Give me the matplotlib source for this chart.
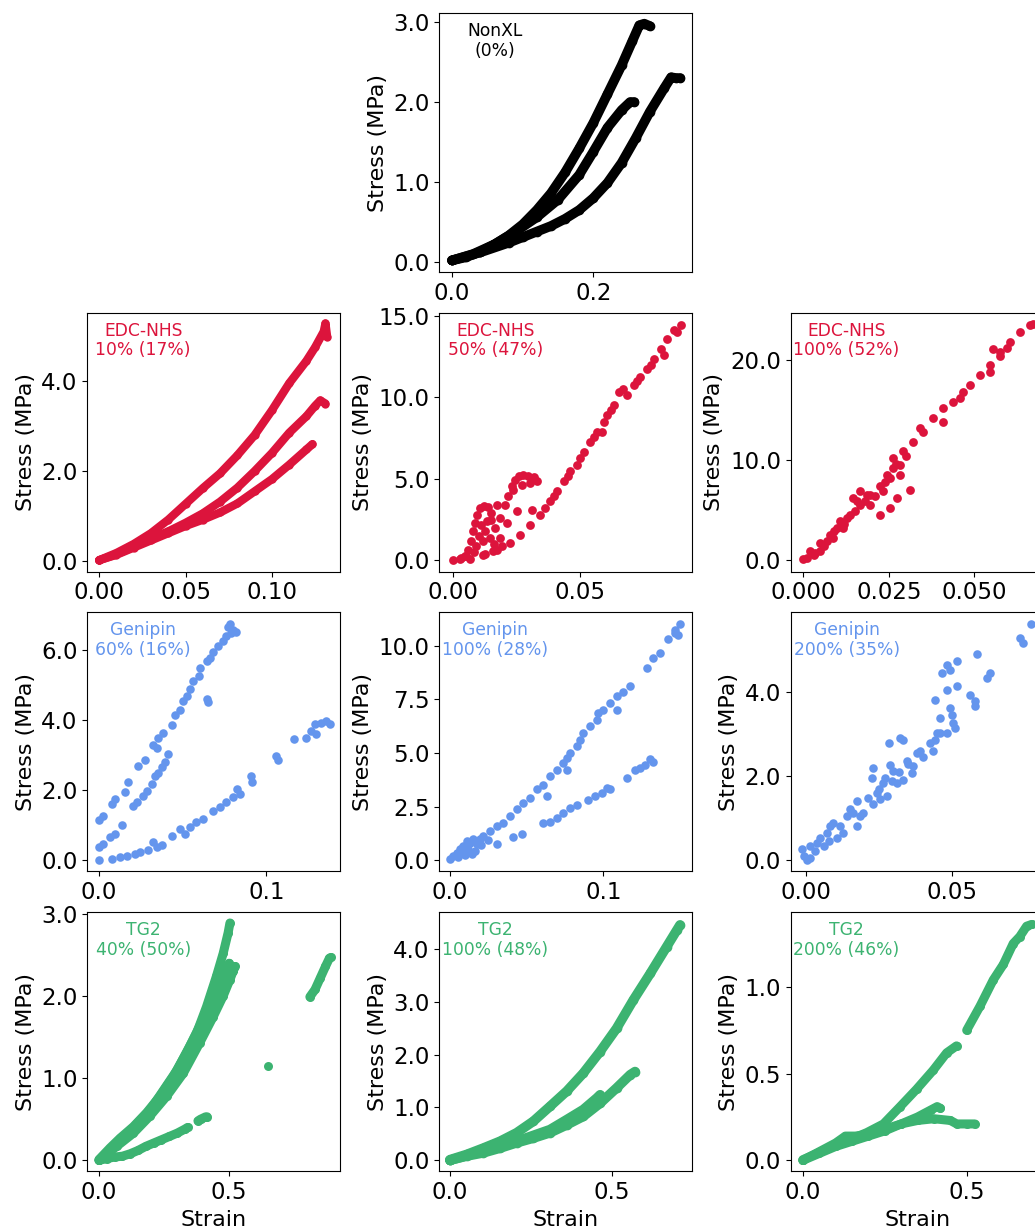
import matplotlib
matplotlib.use("Agg")
import matplotlib.pyplot as plt
from matplotlib.ticker import MaxNLocator, FormatStrFormatter

# ---------------- data ----------------
# NonXL (0%)
nonxl_c1_x = [0.0, 0.02, 0.04, 0.06, 0.08, 0.10, 0.12, 0.14, 0.16, 0.18, 0.20, 0.22, 0.24, 0.255, 0.265, 0.272, 0.28]
nonxl_c1_y = [0.02, 0.06, 0.13, 0.22, 0.33, 0.47, 0.65, 0.86, 1.12, 1.42, 1.74, 2.10, 2.46, 2.76, 2.96, 2.98, 2.95]
nonxl_c2_x = [0.0, 0.03, 0.06, 0.09, 0.12, 0.15, 0.18, 0.20, 0.22, 0.24, 0.252, 0.258]
nonxl_c2_y = [0.02, 0.10, 0.22, 0.38, 0.56, 0.78, 1.09, 1.38, 1.68, 1.90, 2.00, 2.00]
nonxl_c3_x = [0.0, 0.04, 0.08, 0.10, 0.12, 0.14, 0.16, 0.18, 0.20, 0.22, 0.24, 0.26, 0.28, 0.30, 0.31, 0.317, 0.323]
nonxl_c3_y = [0.02, 0.12, 0.24, 0.31, 0.38, 0.45, 0.54, 0.65, 0.80, 0.99, 1.24, 1.55, 1.88, 2.17, 2.31, 2.30, 2.30]

# EDC-NHS 10% (17%)
edc10_c1_x = [0.0, 0.01, 0.02, 0.03, 0.04, 0.05, 0.06, 0.07, 0.08, 0.09, 0.10, 0.11, 0.12, 0.125, 0.13, 0.131, 0.132]
edc10_c1_y = [0.02, 0.18, 0.38, 0.62, 0.92, 1.27, 1.62, 1.95, 2.35, 2.80, 3.35, 3.95, 4.45, 4.75, 5.10, 5.28, 4.98]
edc10_c2_x = [0.0, 0.01, 0.02, 0.03, 0.04, 0.05, 0.06, 0.07, 0.08, 0.09, 0.10, 0.11, 0.12, 0.125, 0.128, 0.131]
edc10_c2_y = [0.02, 0.15, 0.32, 0.50, 0.66, 0.85, 1.06, 1.32, 1.63, 2.00, 2.40, 2.85, 3.22, 3.45, 3.57, 3.50]
edc10_c3_x = [0.0, 0.01, 0.02, 0.03, 0.04, 0.05, 0.06, 0.07, 0.08, 0.09, 0.10, 0.11, 0.12, 0.1235]
edc10_c3_y = [0.02, 0.14, 0.30, 0.46, 0.62, 0.78, 0.92, 1.08, 1.28, 1.55, 1.82, 2.14, 2.48, 2.60]

# EDC-NHS 50% (47%)
edc50_x = [0.0, 0.0026, 0.0046, 0.0059, 0.0068, 0.0076, 0.0086, 0.0095, 0.0105, 0.0121, 0.0138, 0.0147, 0.0134,
           0.0125, 0.0118, 0.0125, 0.0066, 0.0118, 0.0171, 0.0224, 0.0263, 0.0303, 0.0342, 0.0382, 0.0408, 0.0434,
           0.0461, 0.0487, 0.0513, 0.0540, 0.0566, 0.0586, 0.0592, 0.0605, 0.0632, 0.0651, 0.0684, 0.0711, 0.0737,
           0.0763, 0.0790, 0.0816, 0.0842, 0.0869, 0.0895, 0.0145, 0.0164, 0.0184, 0.0204, 0.0217, 0.0230, 0.0243,
           0.0257, 0.0276, 0.0296, 0.0316, 0.0329, 0.0303, 0.0270, 0.0237, 0.0250, 0.0309, 0.0211, 0.0184, 0.0158,
           0.0191, 0.0171, 0.0100, 0.0090, 0.0080, 0.0110, 0.0050, 0.0030, 0.0150, 0.0160, 0.0880, 0.0780, 0.0830,
           0.0360, 0.0395, 0.0450, 0.0500, 0.0555, 0.0620, 0.0670, 0.0725]
edc50_y = [0.0, 0.06, 0.26, 0.67, 1.18, 1.79, 2.30, 2.81, 3.22, 3.32, 3.28, 2.91, 2.40,
           1.79, 1.18, 0.37, 0.06, 0.33, 0.67, 1.08, 1.59, 2.20, 2.81, 3.63, 4.24, 4.85,
           5.46, 5.87, 6.68, 7.29, 7.90, 7.90, 8.52, 8.92, 9.53, 10.35, 10.14, 10.76, 11.26,
           11.77, 12.38, 13.00, 13.61, 14.12, 14.46, 1.39, 2.00, 2.61, 3.42, 3.93, 4.54, 4.95,
           5.21, 5.26, 5.21, 5.15, 4.89, 4.75, 4.64, 4.34, 3.01, 3.12, 2.30, 1.39, 0.57,
           0.88, 3.42, 1.50, 0.90, 0.50, 2.20, 0.30, 0.15, 2.50, 1.00, 14.00, 12.00, 12.60,
           3.20, 3.95, 5.20, 6.30, 7.60, 9.20, 10.50, 11.00]

# EDC-NHS 100% (52%)
edc100_x = [0.0, 0.0019, 0.0049, 0.0078, 0.0107, 0.0136, 0.0166, 0.0195, 0.0224, 0.0244, 0.0263, 0.0292, 0.0322,
            0.0351, 0.0380, 0.0409, 0.0439, 0.0468, 0.0487, 0.0517, 0.0546, 0.0575, 0.0604, 0.0634, 0.0663, 0.0673,
            0.0312, 0.0283, 0.0273, 0.0253, 0.0224, 0.0195, 0.0166, 0.0146, 0.0117, 0.0088, 0.0049, 0.0556, 0.0575,
            0.0546, 0.0595, 0.0458, 0.0409, 0.0341, 0.0253, 0.0263, 0.0283, 0.0234, 0.0185, 0.0156, 0.0127, 0.0097,
            0.0068, 0.0034, 0.0010, 0.0030, 0.0060, 0.0090, 0.0120, 0.0150, 0.0180, 0.0210, 0.0240, 0.0270, 0.0300]
edc100_y = [0.10, 0.93, 1.75, 2.58, 3.90, 4.56, 5.56, 6.55, 7.37, 8.53, 10.19, 10.85, 11.84,
            12.83, 14.15, 15.15, 15.81, 16.80, 17.46, 18.45, 19.45, 20.77, 21.76, 22.75, 23.41, 23.58,
            7.04, 8.53, 6.22, 5.23, 4.56, 5.56, 6.88, 6.22, 3.24, 2.25, 0.93, 21.10, 20.40,
            18.79, 21.20, 16.14, 13.82, 13.16, 8.20, 9.19, 9.52, 6.88, 6.55, 5.89, 4.23, 3.24,
            1.92, 0.76, 0.26, 0.50, 1.40, 2.90, 3.60, 4.90, 5.90, 6.40, 7.80, 9.60, 10.40]

# Genipin 60% (16%)
gen60_x = [0.0, 0.0026, 0.0076, 0.0095, 0.0155, 0.0175, 0.0235, 0.0274, 0.0324, 0.0344, 0.0354, 0.0384, 0.0433,
           0.0453, 0.0483, 0.0503, 0.0523, 0.0543, 0.0563, 0.0598, 0.0602, 0.0642, 0.0662, 0.0682, 0.0712, 0.0742,
           0.0761, 0.0771, 0.0781, 0.0801, 0.0821, 0.0791, 0.0642, 0.0650,
           0.0, 0.0026, 0.0066, 0.0095, 0.0135, 0.0205, 0.0225, 0.0264, 0.0284, 0.0314, 0.0334, 0.0354, 0.0374,
           0.0394, 0.0413,
           0.0, 0.0076, 0.0125, 0.0165, 0.0215, 0.0245, 0.0294, 0.0324, 0.0344, 0.0374, 0.0433, 0.0483, 0.0513,
           0.0543, 0.0582, 0.0622, 0.0682, 0.0722, 0.0761, 0.0801, 0.0825, 0.0841, 0.0910, 0.0916, 0.1056, 0.1070,
           0.1165, 0.1235, 0.1268, 0.1288, 0.1294, 0.1328, 0.1358, 0.1378]
gen60_y = [1.15, 1.26, 1.59, 1.73, 1.94, 2.21, 2.68, 2.85, 3.27, 3.20, 3.49, 3.63, 3.84,
           4.15, 4.29, 4.53, 4.67, 4.88, 5.10, 5.24, 5.48, 5.67, 5.76, 5.95, 6.10, 6.24,
           6.38, 6.66, 6.74, 6.57, 6.52, 6.47, 4.60, 4.50,
           0.36, 0.45, 0.64, 0.74, 0.98, 1.55, 1.66, 1.83, 1.97, 2.16, 2.40, 2.49, 2.64,
           2.80, 3.01,
           0.0, 0.03, 0.08, 0.12, 0.17, 0.22, 0.27, 0.50, 0.36, 0.41, 0.67, 0.88, 0.74,
           0.93, 1.07, 1.17, 1.40, 1.50, 1.64, 1.78, 2.02, 1.88, 2.40, 2.23, 2.97, 2.85,
           3.46, 3.49, 3.68, 3.87, 3.58, 3.92, 3.96, 3.87]

# Genipin 100% (28%)
gen100_x = [0.0, 0.0022, 0.0043, 0.0065, 0.0087, 0.0109, 0.0130, 0.0152, 0.0174, 0.0196, 0.0217, 0.0261, 0.0304,
            0.0348, 0.0391, 0.0435, 0.0478, 0.0522, 0.0565, 0.0609, 0.0652, 0.0696, 0.0739, 0.0761, 0.0783, 0.0826,
            0.0848, 0.0870, 0.0913, 0.0957, 0.0967, 0.1000, 0.1043, 0.1087, 0.1130, 0.1174, 0.1087, 0.0761, 0.0630,
            0.1283, 0.1326, 0.1370, 0.1424, 0.1467, 0.1500, 0.1489, 0.1467,
            0.0304, 0.0413, 0.0467, 0.0609, 0.0652, 0.0696, 0.0739, 0.0783, 0.0826, 0.0902, 0.0946, 0.0989, 0.1022,
            0.1043, 0.1152, 0.1207, 0.1239, 0.1272, 0.1304, 0.1326,
            0.0050, 0.0080, 0.0120, 0.0160, 0.0200, 0.0140, 0.0100, 0.0250]
gen100_y = [0.05, 0.20, 0.36, 0.51, 0.67, 0.90, 0.82, 0.98, 0.74, 0.98, 1.13, 1.36, 1.59,
            1.75, 2.06, 2.37, 2.68, 2.91, 3.30, 3.53, 3.92, 4.23, 4.54, 4.77, 5.00, 5.31,
            5.62, 5.93, 6.24, 6.55, 6.86, 7.01, 7.32, 7.63, 7.86, 8.10, 7.01, 4.23, 2.99,
            8.95, 9.41, 9.64, 10.29, 10.73, 11.00, 10.50, 10.57,
            0.74, 1.10, 1.21, 1.72, 1.78, 1.98, 2.21, 2.45, 2.60, 2.83, 2.99, 3.14, 3.37,
            3.30, 3.84, 4.23, 4.30, 4.46, 4.72, 4.57,
            0.15, 0.40, 0.55, 0.45, 0.70, 0.30, 0.25, 0.95]

# Genipin 200% (35%)
gen200_x = [-0.0009, 0.0002, 0.0014, -0.0015, 0.0014, 0.0037, 0.0031, 0.0048, 0.0060, 0.0071, 0.0077, 0.0082,
            0.0094, 0.0105, 0.0117, 0.0128, 0.0140, 0.0151, 0.0162, 0.0174, 0.0174, 0.0185, 0.0197, 0.0214,
            0.0225, 0.0231, 0.0231, 0.0243, 0.0254, 0.0263, 0.0277, 0.0283, 0.0288, 0.0294, 0.0300, 0.0311,
            0.0323, 0.0334, 0.0334, 0.0345, 0.0363, 0.0368, 0.0380, 0.0391, 0.0403, 0.0437, 0.0443, 0.0448,
            0.0443, 0.0460, 0.0466, 0.0483, 0.0483, 0.0483, 0.0494, 0.0494, 0.0500, 0.0506, 0.0511, 0.0517,
            0.0517, 0.0563, 0.0580, 0.0580, 0.0586, 0.0622, 0.0631, 0.0734, 0.0746, 0.0774, 0.0426, 0.0460,
            0.0250, 0.0270, 0.0320, 0.0350]
gen200_y = [0.10, 0.02, 0.06, 0.28, 0.34, 0.42, 0.22, 0.54, 0.34, 0.66, 0.46, 0.81,
            0.89, 0.54, 0.81, 0.66, 1.05, 1.21, 1.13, 1.41, 0.81, 1.05, 1.13, 1.49,
            1.96, 2.20, 1.33, 1.60, 1.45, 1.84, 1.53, 2.79, 2.28, 1.88, 2.12, 1.84,
            2.91, 2.87, 1.92, 2.36, 2.08, 2.24, 2.55, 2.59, 2.47, 2.59, 2.87, 3.03,
            3.82, 3.38, 4.45, 4.06, 4.65, 3.03, 3.62, 4.53, 3.46, 3.26, 3.15, 4.15,
            4.73, 3.94, 3.78, 3.66, 4.92, 4.33, 4.45, 5.28, 5.16, 5.62, 2.79, 3.03,
            1.70, 1.95, 2.10, 2.30]

# TG2 40% (50%)
tg40_c1_x = [0.0, 0.042, 0.081, 0.132, 0.183, 0.234, 0.285, 0.336, 0.375, 0.413, 0.451, 0.477, 0.496, 0.503]
tg40_c1_y = [0.01, 0.15, 0.27, 0.41, 0.58, 0.78, 1.02, 1.31, 1.55, 1.87, 2.24, 2.52, 2.77, 2.89]
tg40_c2_x = [0.0, 0.068, 0.132, 0.196, 0.260, 0.324, 0.387, 0.439, 0.477, 0.503, 0.522, 0.515]
tg40_c2_y = [0.0, 0.17, 0.33, 0.54, 0.78, 1.06, 1.43, 1.75, 2.00, 2.20, 2.36, 2.30]
tg40_c3_x = [0.0, 0.10, 0.20, 0.30, 0.35, 0.40, 0.45, 0.50]
tg40_c3_y = [0.0, 0.29, 0.63, 1.10, 1.40, 1.72, 2.05, 2.40]
tg40_c4_x = [0.0, 0.03, 0.06, 0.09, 0.12, 0.15, 0.18, 0.21, 0.24, 0.27, 0.30, 0.33, 0.34]
tg40_c4_y = [0.0, 0.02, 0.04, 0.05, 0.08, 0.12, 0.17, 0.21, 0.25, 0.29, 0.33, 0.38, 0.40]
tg40_c5_x = [0.38, 0.39, 0.41, 0.415]
tg40_c5_y = [0.48, 0.50, 0.53, 0.53]
tg40_c6_x = [0.81, 0.83, 0.85, 0.87, 0.885, 0.89]
tg40_c6_y = [1.99, 2.08, 2.22, 2.36, 2.46, 2.47]
tg40_pt_x = [0.65]
tg40_pt_y = [1.15]

# TG2 100% (48%)
tg100_c1_x = [0.0, 0.052, 0.103, 0.155, 0.206, 0.258, 0.309, 0.361, 0.412, 0.464, 0.515, 0.567, 0.619, 0.670, 0.701, 0.711]
tg100_c1_y = [0.01, 0.11, 0.23, 0.36, 0.52, 0.74, 1.02, 1.31, 1.65, 2.06, 2.50, 3.04, 3.54, 4.05, 4.36, 4.46]
tg100_c2_x = [0.0, 0.052, 0.103, 0.155, 0.206, 0.258, 0.309, 0.361, 0.412, 0.464, 0.515, 0.557, 0.572]
tg100_c2_y = [0.0, 0.08, 0.14, 0.23, 0.33, 0.42, 0.52, 0.67, 0.83, 1.08, 1.37, 1.62, 1.68]
tg100_c3_x = [0.0, 0.103, 0.206, 0.309, 0.361, 0.412, 0.454, 0.464]
tg100_c3_y = [0.0, 0.17, 0.36, 0.58, 0.77, 0.96, 1.18, 1.24]

# TG2 200% (46%)
tg200_c1_x = [0.0, 0.043, 0.093, 0.144, 0.195, 0.246, 0.297, 0.347, 0.398, 0.439, 0.469]
tg200_c1_y = [0.004, 0.04, 0.08, 0.12, 0.16, 0.21, 0.31, 0.41, 0.52, 0.62, 0.66]
tg200_c2_x = [0.500, 0.541, 0.581, 0.612, 0.642, 0.662, 0.683, 0.698]
tg200_c2_y = [0.75, 0.89, 1.04, 1.13, 1.25, 1.29, 1.35, 1.36]
tg200_c3_x = [0.0, 0.05, 0.10, 0.15, 0.20, 0.25, 0.30, 0.35, 0.39, 0.41, 0.42]
tg200_c3_y = [0.0, 0.04, 0.08, 0.11, 0.14, 0.17, 0.21, 0.25, 0.29, 0.31, 0.30]
tg200_c4_x = [0.0, 0.05, 0.10, 0.13, 0.16, 0.20, 0.25, 0.30, 0.35, 0.40, 0.45, 0.47, 0.50, 0.525]
tg200_c4_y = [0.0, 0.05, 0.10, 0.14, 0.14, 0.15, 0.18, 0.21, 0.23, 0.24, 0.23, 0.21, 0.21, 0.21]

labels = {
    "nonxl": "NonXL\n(0%)",
    "edc10": "EDC-NHS\n10% (17%)", "edc50": "EDC-NHS\n50% (47%)", "edc100": "EDC-NHS\n100% (52%)",
    "gen60": "Genipin\n60% (16%)", "gen100": "Genipin\n100% (28%)", "gen200": "Genipin\n200% (35%)",
    "tg40": "TG2\n40% (50%)", "tg100": "TG2\n100% (48%)", "tg200": "TG2\n200% (46%)",
}

BLACK = "black"
RED = "#DC143C"
BLUE = "#6495ED"
GREEN = "#3CB371"

# ---------------- layout ----------------
W, H = 1035, 1229
fig = plt.figure(figsize=(W / 100, H / 100), dpi=100)
fig.patch.set_facecolor("white")

col_left = [87.3, 439.3, 790.7]
row_top = [13.3, 312.7, 612.3, 912.3]
AW, AH = 253.0, 259.0
STEPS = [1, 2, 2.5, 5, 10]


def make_ax(r, c, xlim, ylim, label, color):
    l = col_left[c]
    t = row_top[r]
    ax = fig.add_axes([l / W, 1 - (t + AH) / H, AW / W, AH / H])
    ax.set_xlim(*xlim)
    ax.set_ylim(*ylim)
    ax.xaxis.set_major_locator(MaxNLocator(nbins=3, steps=STEPS))
    ax.yaxis.set_major_locator(MaxNLocator(nbins=5, steps=STEPS))
    ax.yaxis.set_major_formatter(FormatStrFormatter("%.1f"))
    ax.tick_params(labelsize=16.5)
    ax.set_ylabel("Stress (MPa)", fontsize=16)
    # upper-row x labels sit behind the next row of axes, as in the original
    ax.set_xlabel("Strain", fontsize=16, labelpad=4 if r == 3 else 9)
    ax.text(0.221, 0.965, label, transform=ax.transAxes, ha="center", va="top",
            multialignment="center", fontsize=12.3, color=color, linespacing=1.1)
    return ax


def band(ax, x, y, color, w):
    ax.plot(x, y, "o-", color=color, lw=w, ms=w, solid_capstyle="round",
            solid_joinstyle="round", markeredgewidth=0)


# Row 0 : NonXL
ax = make_ax(0, 1, (-0.018, 0.340), (-0.129, 3.11), labels["nonxl"], BLACK)
for xs, ys in [(nonxl_c1_x, nonxl_c1_y), (nonxl_c2_x, nonxl_c2_y), (nonxl_c3_x, nonxl_c3_y)]:
    band(ax, xs, ys, BLACK, 7.0)

# Row 1 : EDC-NHS
ax = make_ax(1, 0, (-0.0069, 0.1396), (-0.236, 5.52), labels["edc10"], RED)
for xs, ys in [(edc10_c1_x, edc10_c1_y), (edc10_c2_x, edc10_c2_y), (edc10_c3_x, edc10_c3_y)]:
    band(ax, xs, ys, RED, 6.0)

ax = make_ax(1, 1, (-0.0055, 0.0941), (-0.69, 15.2), labels["edc50"], RED)
ax.scatter(edc50_x, edc50_y, s=40, color=RED, linewidths=0)

ax = make_ax(1, 2, (-0.0037, 0.0703), (-1.12, 24.67), labels["edc100"], RED)
ax.scatter(edc100_x, edc100_y, s=40, color=RED, linewidths=0)

# Row 2 : Genipin
ax = make_ax(2, 0, (-0.0070, 0.1441), (-0.33, 7.07), labels["gen60"], BLUE)
ax.scatter(gen60_x, gen60_y, s=38, color=BLUE, linewidths=0)

ax = make_ax(2, 1, (-0.0070, 0.1580), (-0.51, 11.55), labels["gen100"], BLUE)
ax.scatter(gen100_x, gen100_y, s=38, color=BLUE, linewidths=0)

ax = make_ax(2, 2, (-0.0053, 0.0816), (-0.26, 5.90), labels["gen200"], BLUE)
ax.scatter(gen200_x, gen200_y, s=38, color=BLUE, linewidths=0)

# Row 3 : TG2
ax = make_ax(3, 0, (-0.045, 0.927), (-0.134, 3.02), labels["tg40"], GREEN)
for xs, ys in [(tg40_c1_x, tg40_c1_y), (tg40_c2_x, tg40_c2_y), (tg40_c3_x, tg40_c3_y),
               (tg40_c4_x, tg40_c4_y), (tg40_c5_x, tg40_c5_y), (tg40_c6_x, tg40_c6_y)]:
    band(ax, xs, ys, GREEN, 6.5)
ax.scatter(tg40_pt_x, tg40_pt_y, s=42, color=GREEN, linewidths=0)

ax = make_ax(3, 1, (-0.033, 0.749), (-0.21, 4.70), labels["tg100"], GREEN)
for xs, ys in [(tg100_c1_x, tg100_c1_y), (tg100_c2_x, tg100_c2_y), (tg100_c3_x, tg100_c3_y)]:
    band(ax, xs, ys, GREEN, 7.0)

ax = make_ax(3, 2, (-0.037, 0.735), (-0.063, 1.43), labels["tg200"], GREEN)
for xs, ys in [(tg200_c1_x, tg200_c1_y), (tg200_c2_x, tg200_c2_y), (tg200_c3_x, tg200_c3_y),
               (tg200_c4_x, tg200_c4_y)]:
    band(ax, xs, ys, GREEN, 6.5)

fig.savefig("out.png", dpi=100)
